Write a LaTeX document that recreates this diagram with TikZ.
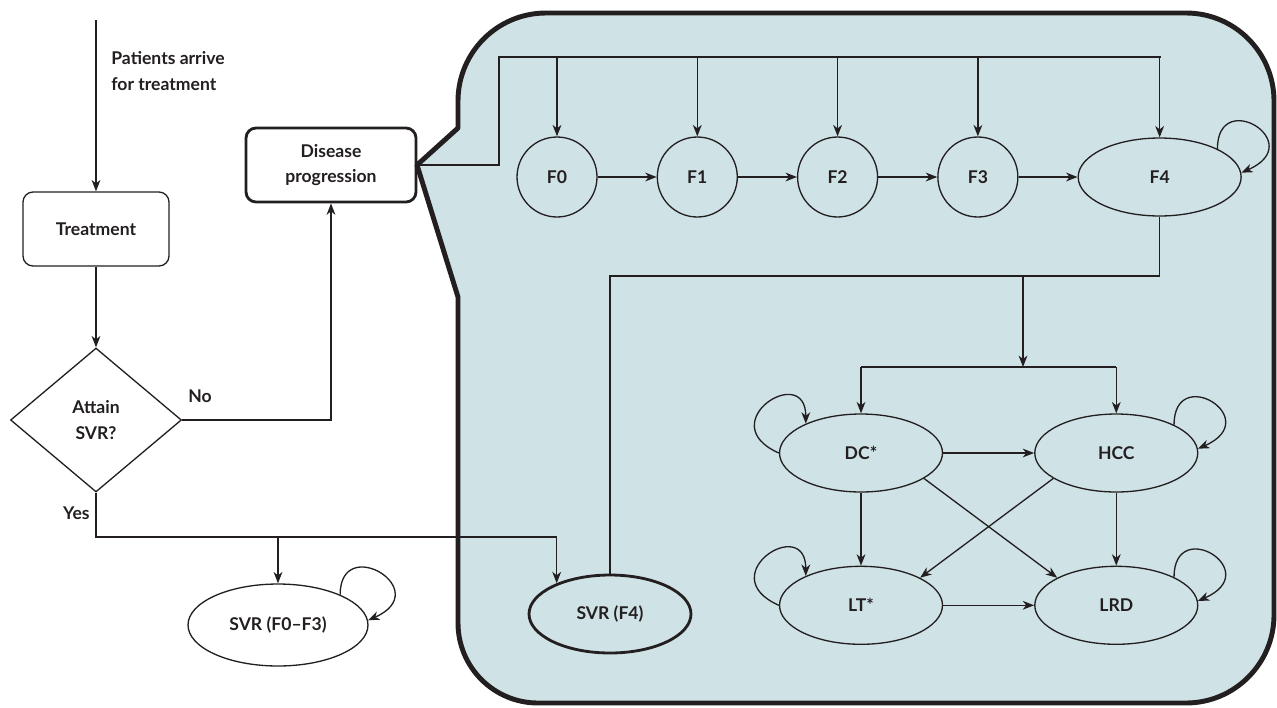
\documentclass[tikz,border=0pt]{standalone}
\usepackage{fontspec}
\setmainfont{Lato}
\usetikzlibrary{positioning,shapes.geometric,arrows.meta}
\definecolor{panelBlue}{RGB}{207,226,229}
\definecolor{inkGray}{RGB}{35,31,32}

\begin{document}
\begin{tikzpicture}[x=0.02cm, y=-0.02cm,
    every node/.style={font=\fontsize{10}{14.5}\selectfont\bfseries, text=inkGray},
    wire/.style={draw=inkGray, line width=0.75pt},
    arr/.style={wire, -{Stealth[length=6.5pt, width=5pt, inset=2pt]}},
    box/.style={wire, rounded corners=0.2cm, minimum width=2.92cm, minimum height=1.48cm, align=center},
    decision/.style={wire, diamond, minimum width=3.42cm, minimum height=2.88cm, inner sep=0pt, align=center},
    fstate/.style={wire, circle, minimum size=1.6cm, inner sep=0pt},
    estate/.style={wire, ellipse, minimum width=3.26cm, minimum height=1.56cm, inner sep=0pt},
    note/.style={align=left, inner sep=0pt},
    panel/.style={draw=inkGray, fill=panelBlue, line width=2.8pt, line join=round}]
  \useasboundingbox (0,0) rectangle (1277,707);

  % callout panel
  \draw[panel] (417,165) -- (458,128) -- (458,101) arc[start angle=180, end angle=270, radius=88]
    -- (1186,13) arc[start angle=270, end angle=360, radius=88]
    -- (1274,615) arc[start angle=0, end angle=90, radius=88]
    -- (538,703) arc[start angle=90, end angle=180, radius=80]
    -- (458,297) -- cycle;

  % left flow
  \coordinate (entry) at (96,20);
  \node[note, anchor=west] (arrive) at (111,71) {Patients arrive\\for treatment};
  \node[box] (treat) at (96,229) {Treatment};
  \node[decision] (svrq) at (96,420) {Attain\\SVR?};
  \node[box, line width=1.6pt, minimum width=3.4cm] (prog) at (331,165) {Disease\\progression};
  \node[note, anchor=base west] (nolab) at (188,402) {No};
  \node[note, anchor=base east] (yeslab) at (90,519) {Yes};
  \node[estate, minimum width=3.6cm, minimum height=1.64cm] (svrmild) at (278,625) {SVR (F0--F3)};

  % fibrosis chain
  \node[fstate] (f0) at (557,177) {F0};
  \node[fstate, right=1.18cm of f0] (f1) {F1};
  \node[fstate, right=1.18cm of f1] (f2) {F2};
  \node[fstate, right=1.18cm of f2] (f3) {F3};
  \node[estate, right=1.18cm of f3] (f4) {F4};

  % end-stage states
  \node[estate] (dc) at (861,453) {DC*};
  \node[estate, right=1.82cm of dc] (hcc) {HCC};
  \node[estate, below=1.46cm of dc] (lt) {LT*};
  \node[estate, below=1.46cm of hcc] (lrd) {LRD};
  \node[estate, line width=1.6pt, minimum width=3.24cm] (svrf4) at (610,614) {SVR (F4)};

  \coordinate (bus) at (499,57);
  \coordinate (busend) at (1161,57);
  \coordinate (lowbus) at (0,276);
  \coordinate (split) at (1023,367);
  \coordinate (yesbend) at (96,537);

  \draw[arr] (entry) -- (treat);
  \draw[arr] (treat) -- (svrq);
  \draw[arr] (svrq.east) -| (prog.south);
  \draw[arr] (svrq.south) -- (yesbend) -| (svrf4.150);
  \draw[arr] (svrmild.north |- yesbend) -- (svrmild);

  \draw[wire] (prog.east) -| (bus) -- (busend);
  \foreach \f in {f0,f1,f2,f3,f4}
    \draw[arr] (\f.north |- bus) -- (\f.north);
  \foreach \a/\b in {f0/f1,f1/f2,f2/f3,f3/f4}
    \draw[arr] (\a) -- (\b);

  \draw[wire] (f4.south) |- (svrf4.north |- lowbus) -- (svrf4.north);
  \draw[arr] (split |- lowbus) -- (split);
  \draw[wire] (dc.north |- split) -- (hcc.north |- split);
  \draw[arr] (dc.north |- split) -- (dc.north);
  \draw[arr] (hcc.north |- split) -- (hcc.north);

  \draw[arr] (dc) -- (hcc);
  \draw[arr] (dc) -- (lt);
  \draw[arr] (hcc) -- (lrd);
  \draw[arr] (lt) -- (lrd);
  \draw[arr] (dc.-22) -- (lrd.155);
  \draw[arr] (hcc.202) -- (lt.25);

  % self loops
  \foreach \n in {f4,hcc,lrd,svrmild}
    \draw[arr] (\n.26) .. controls +(0,-62) and +(68,-30) .. (\n.3);
  \foreach \n in {dc,lt}
    \draw[arr] (\n.west) .. controls +(-68,-30) and +(0,-62) .. (\n.152);
\end{tikzpicture}
\end{document}
